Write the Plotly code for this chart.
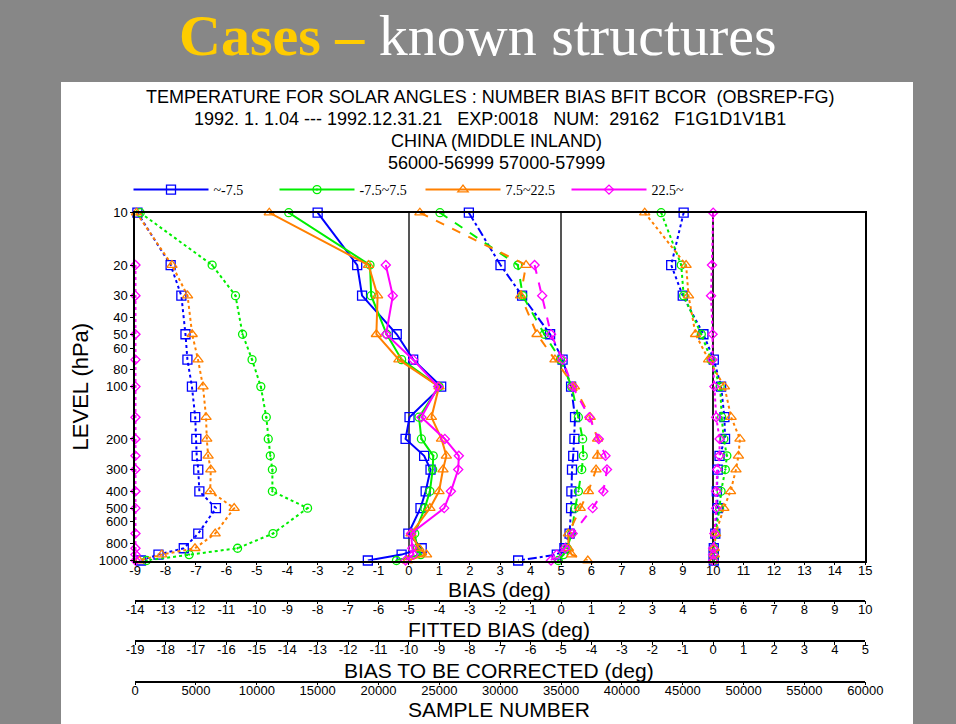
import plotly.graph_objects as go

# ---------------- data ----------------
levels = [10, 20, 30, 50, 70, 100, 150, 200, 250, 300, 400, 500, 700, 850, 925, 1000]
levels_mag = levels[1:]

series_names = ["~-7.5", "-7.5~7.5", "7.5~22.5", "22.5~"]
colors = ["#0000ff", "#00ee00", "#ff8000", "#ff00ff"]
symbols = ["square-open", "circle-open-dot", "triangle-up-open", "diamond-open"]
msizes = [9, 8, 9, 7]

# sample number
num_blue = [190, 2920, 3800, 4140, 4300, 4670, 4940, 5030, 5060, 5190, 5280, 6640, 5190, 4000, 1920, 470]
num_green = [420, 6330, 8250, 8830, 9610, 10330, 10780, 10940, 11110, 11280, 11280, 14170, 11330, 8420, 4440, 940]
num_orange = [110, 3030, 4310, 4690, 5170, 5580, 5830, 5890, 6000, 6220, 6170, 8140, 6580, 4920, 2190, 330]
num_mag = [30, 30, 30, 30, 30, 30, 30, 30, 30, 30, 30, 30, 30, 30, 30]

# bias (deg)
bias_blue = [-3.0, -1.70, -1.54, -0.40, 0.14, 1.06, 0.02, -0.11, 0.50, 0.71, 0.55, 0.38, -0.02, 0.42, -0.24, -1.35]
bias_green = [-3.95, -1.28, -1.24, -0.73, -0.24, 0.99, 0.33, 0.41, 0.80, 0.78, 0.69, 0.52, 0.19, 0.28, 0.39, -0.41]
bias_orange = [-4.59, -1.33, -1.03, -1.07, -0.33, 0.99, 0.74, 1.07, 1.23, 1.12, 0.99, 0.69, 0.07, 0.33, 0.58, -0.05]
bias_mag = [-0.76, -0.53, -0.75, 0.14, 0.96, 0.41, 1.18, 1.64, 1.62, 1.38, 1.16, 0.07, 0.11, 0.15, -0.11]

# fitted bias (deg)
fit_blue = [-3.03, -1.99, -1.28, -0.36, 0.05, 0.33, 0.46, 0.44, 0.40, 0.36, 0.34, 0.33, 0.28, 0.11, -0.14, -1.41]
fit_green = [-3.98, -1.42, -1.26, -0.55, -0.02, 0.35, 0.57, 0.71, 0.73, 0.68, 0.57, 0.46, 0.35, 0.20, 0.08, -0.09]
fit_orange = [-4.64, -1.15, -1.33, -0.79, -0.20, 0.44, 0.96, 1.20, 1.20, 1.15, 0.90, 0.63, 0.24, 0.24, 0.35, 0.88]
fit_mag = [-0.87, -0.62, -0.33, 0.05, 0.38, 0.93, 1.24, 1.46, 1.51, 1.39, 1.04, 0.38, 0.13, -0.14, -0.33]

# bias to be corrected (deg)
cor_blue = [-0.97, -1.38, -1.00, -0.32, 0.02, 0.26, 0.37, 0.39, 0.21, 0.15, 0.12, 0.15, 0.07, 0.02, 0.02, 0.02]
cor_green = [-1.71, -1.05, -0.97, -0.39, -0.07, 0.23, 0.28, 0.35, 0.45, 0.40, 0.26, 0.21, 0.08, 0.02, 0.02, 0.02]
cor_orange = [-2.25, -0.89, -0.81, -0.58, -0.15, 0.37, 0.59, 0.88, 0.83, 0.75, 0.57, 0.35, 0.08, 0.04, 0.04, 0.02]
cor_mag = [0.0, -0.04, -0.07, -0.02, -0.02, 0.04, 0.10, 0.21, 0.21, 0.13, 0.10, 0.10, 0.04, 0.0, 0.0, 0.0]

ytick_vals = [10, 20, 30, 40, 50, 60, 80, 100, 200, 300, 400, 500, 600, 800, 1000]
bias_ticks = list(range(-9, 16))
fit_ticks = list(range(-14, 11))
cor_ticks = list(range(-19, 6))
num_ticks = list(range(0, 60001, 5000))

title_lines = [
    "TEMPERATURE FOR SOLAR ANGLES : NUMBER BIAS BFIT BCOR  (OBSREP-FG)",
    "1992. 1. 1.04 --- 1992.12.31.21   EXP:0018   NUM:  29162   F1G1D1V1B1",
    "CHINA (MIDDLE INLAND)",
    "56000-56999 57000-57999",
]
axis_titles = ["BIAS (deg)", "FITTED BIAS (deg)", "BIAS TO BE CORRECTED (deg)", "SAMPLE NUMBER"]

# ---------------- figure ----------------
W, H = 956, 724
fig = go.Figure()

num_sets = [(levels, num_blue), (levels, num_green), (levels, num_orange), (levels_mag, num_mag)]
bias_sets = [(levels, bias_blue), (levels, bias_green), (levels, bias_orange), (levels_mag, bias_mag)]
fit_sets = [(levels, fit_blue), (levels, fit_green), (levels, fit_orange), (levels_mag, fit_mag)]
cor_sets = [(levels, cor_blue), (levels, cor_green), (levels, cor_orange), (levels, cor_mag)]
fit_dash = ["dashdot", "dash", "dash", "dash"]

def add(sets, xaxis, dashes, showlegend):
    for i, (lv, vals) in enumerate(sets):
        fig.add_trace(go.Scatter(
            x=vals, y=lv, xaxis=xaxis, yaxis="y",
            mode="lines+markers",
            name=series_names[i], legendgroup=series_names[i], showlegend=showlegend,
            line=dict(color=colors[i], width=2, dash=dashes[i]),
            marker=dict(symbol=symbols[i], size=msizes[i], color=colors[i],
                        line=dict(color=colors[i], width=1.3)),
            cliponaxis=False,
        ))

add(bias_sets, "x", ["solid"] * 4, True)
add(fit_sets, "x2", fit_dash, False)
add(cor_sets, "x3", ["dot"] * 4, False)
add(num_sets, "x4", ["dot"] * 4, False)

x0p, x1p = 135.1 / W, 865.3 / W
ytop, ybot = 1 - 212.7 / H, 1 - 560.5 / H

SANS = "Liberation Sans, Arial, sans-serif"
tickfont = dict(family=SANS, size=13, color="black")
titlefont = dict(family=SANS, size=21, color="black")

common = dict(showgrid=False, showline=True, linecolor="black", linewidth=1.5,
              ticks="outside", ticklen=3, tickcolor="black", tickfont=tickfont,
              automargin=False)
xcommon = dict(common, ticklabelstandoff=-6)

def ticks(vals):
    return dict(tickmode="array", tickvals=vals, ticktext=[str(v) for v in vals])

fig.update_layout(
    width=W, height=H,
    margin=dict(l=0, r=0, t=0, b=0),
    paper_bgcolor="#878787",
    plot_bgcolor="white",
    showlegend=True,
    legend=dict(orientation="h", x=128.5 / W, y=1 - 190 / H, xanchor="left", yanchor="middle",
                bgcolor="rgba(0,0,0,0)", font=dict(family="Liberation Serif, Times New Roman, serif", size=14, color="black"),
                entrywidth=56, entrywidthmode="pixels", itemwidth=75),
    xaxis=dict(domain=[x0p, x1p], range=[-9, 15], anchor="y", mirror=True,
               zeroline=True, zerolinecolor="#555555", zerolinewidth=1.5, **ticks(bias_ticks), **xcommon),
    xaxis2=dict(range=[-14, 10], overlaying="x", anchor="free", position=1 - 600.5 / H,
                zeroline=True, zerolinecolor="#555555", zerolinewidth=1.5, **ticks(fit_ticks), **xcommon),
    xaxis3=dict(range=[-19, 5], overlaying="x", anchor="free", position=1 - 641 / H,
                zeroline=True, zerolinecolor="#222222", zerolinewidth=1.5, **ticks(cor_ticks), **xcommon),
    xaxis4=dict(range=[0, 60000], overlaying="x", anchor="free", position=1 - 681.7 / H,
                zeroline=False, **ticks(num_ticks), **xcommon),
    yaxis=dict(domain=[ybot, ytop], type="log", range=[3, 1], anchor="x", mirror=True,
               tickvals=ytick_vals, ticktext=[str(v) for v in ytick_vals],
               title=dict(text="LEVEL (hPa)", font=dict(family=SANS, size=22, color="black"), standoff=4),
               **common),
)

# white slide panel
fig.add_shape(type="rect", xref="paper", yref="paper", x0=61 / W, x1=913 / W, y0=0, y1=1 - 82 / H,
              fillcolor="white", line=dict(width=0), layer="below")

# slide title
fig.add_annotation(xref="paper", yref="paper", x=478 / W, y=1 - 36 / H, xanchor="center", yanchor="middle",
                   showarrow=False,
                   text="<b><span style='color:#ffcc00'>Cases \u2013</span></b> <span style='color:white'>known structures</span>",
                   font=dict(family="Liberation Serif, Times New Roman, serif", size=58, color="white"))

# chart header
header_y = [97, 119, 141, 163]
header_x = [490, 490, 496, 496]
for t, yy, xx in zip(title_lines, header_y, header_x):
    fig.add_annotation(xref="paper", yref="paper", x=xx / W, y=1 - yy / H, xanchor="center", yanchor="middle",
                       showarrow=False, text=t,
                       font=dict(family=SANS, size=18, color="black"))

# bottom axis titles
for t, yy in zip(axis_titles, [589, 629.5, 670, 709]):
    fig.add_annotation(xref="paper", yref="paper", x=499 / W, y=1 - yy / H, xanchor="center", yanchor="middle",
                       showarrow=False, text=t, font=titlefont)

fig.write_html("out.html", config={"displayModeBar": False},
               post_script="document.body.style.margin='0';document.body.style.overflow='hidden';")
